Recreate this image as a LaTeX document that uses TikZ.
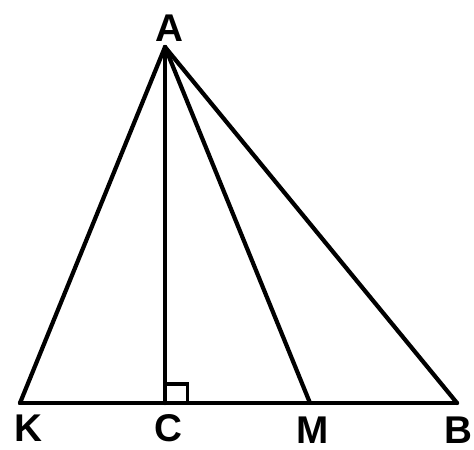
\documentclass[tikz,border=0pt]{standalone}
\usepackage{fontspec}
\setmainfont{Liberation Sans}
\usetikzlibrary{positioning}

\begin{document}
\begin{tikzpicture}[
		pt/.style={inner sep=0pt, font=\fontsize{22}{26}\selectfont\bfseries},
		seg/.style={line width=2.4pt, line cap=round, line join=round}
		]
		\useasboundingbox (0,0) rectangle (9.48,-8.98);
		
		\coordinate (A) at (3.3,-0.94);
		\coordinate (K) at (0.4,-8.06);
		\coordinate (C) at (3.3,-8.06);
		\coordinate (M) at (6.2,-8.06);
		\coordinate (B) at (9.14,-8.06);
		
		\node[pt] (la) at (3.38,-0.56) {A};
		\node[pt] (lk) at (0.56,-8.56) {K};
		\node[pt] (lc) at (3.36,-8.56) {C};
		\node[pt] (lm) at (6.26,-8.6) {M};
		\node[pt] (lb) at (9.16,-8.6) {B};
		
		\draw[seg] (K) -- (B);
		\draw[seg] (A) -- (K);
		\draw[seg] (A) -- (C);
		\draw[seg] (A) -- (M);
		\draw[seg] (A) -- (B);
		% right angle at C
		\draw[line width=2.2pt] ([yshift=0.38cm]C) -| ([xshift=0.45cm]C);
		
	\end{tikzpicture}
\end{document}
